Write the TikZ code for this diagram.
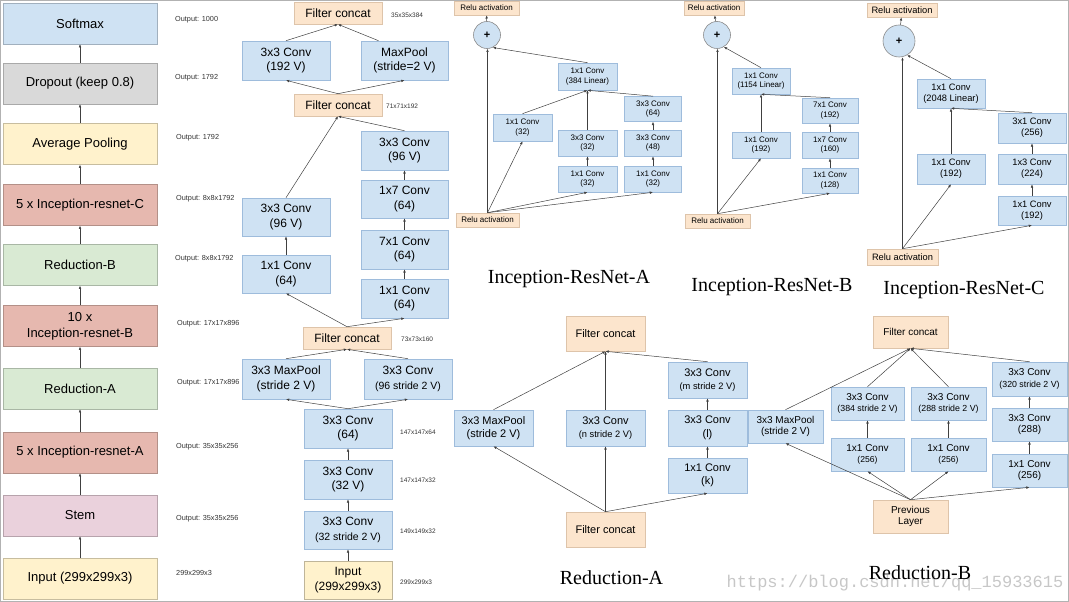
\documentclass[tikz,border=0pt]{standalone}
\usepackage{fontspec}
\setmainfont{Liberation Sans}
\newfontfamily\capfont{Liberation Serif}
\newfontfamily\markfont{Liberation Mono}
\usetikzlibrary{arrows.meta}

\definecolor{convblue}{RGB}{207,226,243}
\definecolor{convline}{RGB}{158,188,220}
\definecolor{catorange}{RGB}{252,229,205}
\definecolor{catline}{RGB}{222,196,170}
\definecolor{dropgray}{RGB}{217,217,217}
\definecolor{poolyellow}{RGB}{255,242,204}
\definecolor{blockred}{RGB}{230,184,175}
\definecolor{redgreen}{RGB}{217,234,211}
\definecolor{stempink}{RGB}{234,209,220}

\newcommand\fsz[1]{\fontsize{#1}{#1}\selectfont}

\tikzset{
  arr/.style={-{Latex[length=3.2pt,width=2.6pt]}, black!75, line width=0.5pt},
  stage/.style={draw=#1!78!black, fill=#1, minimum width=154pt, minimum height=41pt,
    inner sep=0pt, align=center, font=\fontsize{13}{16}\selectfont},
  conv/.style={draw=convline, fill=convblue, inner sep=0pt, align=center, line width=0.6pt},
  concat/.style={draw=catline, fill=catorange, inner sep=0pt, align=center, line width=0.6pt},
  sz/.style n args={2}{minimum width=#1pt, minimum height=#2pt},
  outlbl/.style={anchor=west, inner sep=0pt, text=black!80, font=\fontsize{7.3}{8}\selectfont},
  dimlbl/.style={anchor=west, inner sep=0pt, text=black!80, font=\fontsize{6.5}{7}\selectfont},
  stemf/.style={font=\fontsize{12}{14.5}\selectfont},
  resaf/.style={font=\fontsize{8}{9.4}\selectfont},
  rescf/.style={font=\fontsize{9.3}{10.7}\selectfont},
  redaf/.style={font=\fontsize{11}{13.5}\selectfont},
  redbf/.style={font=\fontsize{10}{11.6}\selectfont},
  sumnode/.style={circle, draw=black!45, fill=convblue, inner sep=0pt, line width=0.6pt,
    font=\bfseries\fontsize{11}{11}\selectfont},
  caption/.style={inner sep=0pt, font=\capfont\fontsize{20}{22}\selectfont},
}

\begin{document}
\begin{tikzpicture}[x=1pt,y=-1pt]
\useasboundingbox (0,0) rectangle (1069,602);
\draw[black!30, line width=1pt] (0.5,0.5) rectangle (1068.5,601.5);

% overall network
\node[stage=convblue]   (soft) at (80,23.5)  {Softmax};
\node[stage=dropgray]   (drop) at (80,83.5)  {Dropout (keep 0.8)};
\node[stage=poolyellow] (avgp) at (80,144)   {Average Pooling};
\node[stage=blockred]   (incC) at (80,205)   {5 x Inception-resnet-C};
\node[stage=redgreen]   (redB) at (80,265)   {Reduction-B};
\node[stage=blockred]   (incB) at (80,326)   {10 x\\Inception-resnet-B};
\node[stage=redgreen]   (redA) at (80,388.5) {Reduction-A};
\node[stage=blockred]   (incA) at (80,452.5) {5 x Inception-resnet-A};
\node[stage=stempink]   (stem) at (80,515.5) {Stem};
\node[stage=poolyellow] (inp)  at (80,578.5) {Input (299x299x3)};
\foreach \a/\b in {inp/stem, stem/incA, incA/redA, redA/incB, incB/redB, redB/incC, incC/avgp, avgp/drop, drop/soft}
  \draw[arr] (\a) -- (\b);

\node[outlbl] (out1)  at (175,20)  {Output: 1000};
\node[outlbl] (out2)  at (175,78)  {Output: 1792};
\node[outlbl] (out3)  at (176,138) {Output: 1792};
\node[outlbl] (out4)  at (176,199) {Output: 8x8x1792};
\node[outlbl] (out5)  at (175,259) {Output: 8x8x1792};
\node[outlbl] (out6)  at (177,324) {Output: 17x17x896};
\node[outlbl] (out7)  at (177,383) {Output: 17x17x896};
\node[outlbl] (out8)  at (176,447) {Output: 35x35x256};
\node[outlbl] (out9)  at (176,519) {Output: 35x35x256};
\node[outlbl] (out10) at (176,573) {299x299x3};

% stem
\node[concat,stemf,sz={88}{22}] (scatA) at (338,13)    {Filter concat};
\node[conv,stemf,sz={88}{39}]   (sc192) at (286,60.5)  {3x3 Conv\\(192 V)};
\node[conv,stemf,sz={87}{39}]   (smp)   at (404.5,60.5) {MaxPool\\(stride=2 V)};
\node[concat,stemf,sz={88}{22}] (scatB) at (338,105)   {Filter concat};
\node[conv,stemf,sz={87}{39}]   (sr96)  at (404.5,150.5) {3x3 Conv\\(96 V)};
\node[conv,stemf,sz={87}{38}]   (s17)   at (404.5,199) {1x7 Conv\\(64)};
\node[conv,stemf,sz={87}{39}]   (s71)   at (404.5,249.5) {7x1 Conv\\(64)};
\node[conv,stemf,sz={87}{39}]   (sr64)  at (404.5,298.5) {1x1 Conv\\(64)};
\node[conv,stemf,sz={88}{38}]   (sl96)  at (286,217)   {3x3 Conv\\(96 V)};
\node[conv,stemf,sz={88}{38}]   (sl64)  at (286,274)   {1x1 Conv\\(64)};
\node[concat,stemf,sz={88}{22}] (scatC) at (347,338)   {Filter concat};
\node[conv,stemf,sz={88}{40}]   (smp2)  at (286,379)   {3x3 MaxPool\\(stride 2 V)};
\node[conv,stemf,sz={88}{40}]   (sc96)  at (408,379)   {3x3 Conv\\\fsz{10.5}(96 stride 2 V)};
\node[conv,stemf,sz={88}{39}]   (sc64)  at (348,428.5) {3x3 Conv\\(64)};
\node[conv,stemf,sz={88}{39}]   (sc32)  at (348,479.5) {3x3 Conv\\(32 V)};
\node[conv,stemf,sz={88}{38}]   (sc32s) at (348,530)   {3x3 Conv\\\fsz{10.5}(32 stride 2 V)};
\node[concat,stemf,sz={88}{38},fill=poolyellow,draw=poolyellow!75!black] (sinp) at (348,580) {Input\\(299x299x3)};

\node[dimlbl] (dimA) at (391,15)  {35x35x384};
\node[dimlbl] (dimB) at (386,106) {71x71x192};
\node[dimlbl] (dimC) at (401,339) {73x73x160};
\node[dimlbl] (dimD) at (400,432) {147x147x64};
\node[dimlbl] (dimE) at (400,480) {147x147x32};
\node[dimlbl] (dimF) at (400,531) {149x149x32};
\node[dimlbl] (dimG) at (400,582) {299x299x3};

\draw[arr] (sinp) -- (sc32s);
\draw[arr] (sc32s) -- (sc32);
\draw[arr] (sc32) -- (sc64);
\draw[arr] (sc64.north) -- (smp2.south);
\draw[arr] (sc64.north) -- (sc96.south);
\draw[arr] (smp2.north) -- (scatC.south);
\draw[arr] (sc96.north) -- (scatC.south);
\draw[arr] (scatC.north) -- (sl64.south);
\draw[arr] (scatC.north) -- (sr64.south);
\draw[arr] (sl64) -- (sl96);
\draw[arr] (sr64) -- (s71);
\draw[arr] (s71) -- (s17);
\draw[arr] (s17) -- (sr96);
\draw[arr] (sl96.north) -- (scatB.south);
\draw[arr] (sr96.north) -- (scatB.south);
\draw[arr] (scatB.north) -- (sc192.south);
\draw[arr] (scatB.north) -- (smp.south);
\draw[arr] (sc192.north) -- (scatA.south);
\draw[arr] ([xshift=-26pt]smp.north) -- (scatA.south);

% Inception-ResNet-A
\node[concat,resaf,sz={65}{14}] (aRtop) at (486.5,8)   {Relu activation};
\node[sumnode,minimum size=27pt] (aSum) at (487,35)   {+};
\node[conv,resaf,sz={59}{27}]   (aLin)  at (587.5,76.5) {1x1 Conv\\(384 Linear)};
\node[conv,resaf,sz={59}{27}]   (a1)    at (522.5,127.5) {1x1 Conv\\(32)};
\node[conv,resaf,sz={59}{26}]   (a2b)   at (587.5,143) {3x3 Conv\\(32)};
\node[conv,resaf,sz={59}{26}]   (a2a)   at (587.5,179) {1x1 Conv\\(32)};
\node[conv,resaf,sz={57}{25}]   (a3c)   at (653,109)   {3x3 Conv\\(64)};
\node[conv,resaf,sz={57}{26}]   (a3b)   at (653,143)   {3x3 Conv\\(48)};
\node[conv,resaf,sz={57}{26}]   (a3a)   at (653,179)   {1x1 Conv\\(32)};
\node[concat,resaf,sz={63}{14}] (aRbot) at (487.5,220) {Relu activation};
\draw[arr] (aRbot.north) -- (aRbot.north |- aSum.south);
\draw[arr] (aRbot.north) -- (a1.south);
\draw[arr] (aRbot.north) -- (a2a.south);
\draw[arr] (aRbot.north) -- (a3a.south);
\draw[arr] (a2a) -- (a2b);
\draw[arr] (a3a) -- (a3b);
\draw[arr] (a3b) -- (a3c);
\draw[arr] (a1.north) -- (aLin.south);
\draw[arr] (a2b.north) -- (aLin.south);
\draw[arr] (a3c.north) -- (aLin.south);
\draw[arr] (aLin.north) -- (aSum.-65);
\draw[arr] (aSum) -- (aRtop);

% Inception-ResNet-B
\node[concat,resaf,sz={60}{14}] (bRtop) at (714,8)     {Relu activation};
\node[sumnode,minimum size=27pt] (bSum) at (717,35)   {+};
\node[conv,resaf,sz={58}{26}]   (bLin)  at (761,81)    {1x1 Conv\\(1154 Linear)};
\node[conv,resaf,sz={58}{26}]   (b1)    at (761,145)   {1x1 Conv\\(192)};
\node[conv,resaf,sz={56}{25}]   (b2c)   at (830,110.5) {7x1 Conv\\(192)};
\node[conv,resaf,sz={56}{26}]   (b2b)   at (830,145)   {1x7 Conv\\(160)};
\node[conv,resaf,sz={56}{25}]   (b2a)   at (830,180.5) {1x1 Conv\\(128)};
\node[concat,resaf,sz={65}{14}] (bRbot) at (717.5,221) {Relu activation};
\draw[arr] (bRbot.north) -- (bRbot.north |- bSum.south);
\draw[arr] (bRbot.north) -- (b1.south);
\draw[arr] (bRbot.north) -- (b2a.south);
\draw[arr] (b2a) -- (b2b);
\draw[arr] (b2b) -- (b2c);
\draw[arr] (b1) -- (bLin);
\draw[arr] (b2c.north) -- (bLin.south);
\draw[arr] (bLin.north) -- (bSum.-60);
\draw[arr] (bSum) -- (bRtop);

% Inception-ResNet-C
\node[concat,rescf,sz={70}{14}] (cRtop) at (902,10)    {Relu activation};
\node[sumnode,minimum size=32pt] (cSum) at (899,41)   {+};
\node[conv,rescf,sz={68}{29}]   (cLin)  at (951,93.5)  {1x1 Conv\\(2048 Linear)};
\node[conv,rescf,sz={68}{30}]   (c1)    at (951,169)   {1x1 Conv\\(192)};
\node[conv,rescf,sz={68}{30}]   (c2c)   at (1032,128)  {3x1 Conv\\(256)};
\node[conv,rescf,sz={68}{30}]   (c2b)   at (1032,169)  {1x3 Conv\\(224)};
\node[conv,rescf,sz={68}{29}]   (c2a)   at (1032,210.5) {1x1 Conv\\(192)};
\node[concat,rescf,sz={71}{16}] (cRbot) at (902.5,257) {Relu activation};
\draw[arr] (cRbot.north) -- (cRbot.north |- cSum.south);
\draw[arr] (cRbot.north) -- (c1.south);
\draw[arr] (cRbot.north) -- (c2a.south);
\draw[arr] (c2a) -- (c2b);
\draw[arr] (c2b) -- (c2c);
\draw[arr] (c1) -- (cLin);
\draw[arr] (c2c.north) -- (cLin.south);
\draw[arr] (cLin.north) -- (cSum.-60);
\draw[arr] (cSum) -- (cRtop);

\node[caption] (capA) at (569,279) {Inception-ResNet-A};
\node[caption] (capB) at (772,287) {Inception-ResNet-B};
\node[caption] (capC) at (964,290) {Inception-ResNet-C};

% Reduction-A
\node[concat,redaf,sz={79}{35}] (raTop) at (605.5,333.5) {Filter concat};
\node[conv,redaf,sz={79}{36}]   (raMp)  at (493.5,428)   {3x3 MaxPool\\(stride 2 V)};
\node[conv,redaf,sz={79}{36}]   (raN)   at (605.5,428)   {3x3 Conv\\\fsz{9.3}(n stride 2 V)};
\node[conv,redaf,sz={79}{36}]   (raM)   at (707.5,380)   {3x3 Conv\\\fsz{9.3}(m stride 2 V)};
\node[conv,redaf,sz={79}{36}]   (raL)   at (707.5,428)   {3x3 Conv\\(l)};
\node[conv,redaf,sz={79}{35}]   (raK)   at (707.5,475.5) {1x1 Conv\\(k)};
\node[concat,redaf,sz={79}{35}] (raBot) at (605.5,529.5) {Filter concat};
\draw[arr] (raBot.north) -- (raMp.south);
\draw[arr] (raBot.north) -- (raN.south);
\draw[arr] (raBot.north) -- (raK.south);
\draw[arr] (raK) -- (raL);
\draw[arr] (raL) -- (raM);
\draw[arr] (raMp.north) -- (raTop.south);
\draw[arr] (raN.north) -- (raTop.south);
\draw[arr] (raM.north) -- (raTop.south);
\node[caption] (capRA) at (611.5,578) {Reduction-A};

% Reduction-B
\node[concat,redbf,sz={75}{32}] (rbTop)  at (910.5,332)   {Filter concat};
\node[conv,redbf,sz={75}{33}]   (rbMp)   at (785.5,426.5) {3x3 MaxPool\\(stride 2 V)};
\node[conv,redbf,sz={73}{33}]   (rb1b)   at (867.5,403.5) {3x3 Conv\\\fsz{8.8}(384 stride 2 V)};
\node[conv,redbf,sz={73}{33}]   (rb1a)   at (867.5,454.5) {1x1 Conv\\\fsz{8.6}(256)};
\node[conv,redbf,sz={75}{33}]   (rb2b)   at (948.5,403.5) {3x3 Conv\\\fsz{8.8}(288 stride 2 V)};
\node[conv,redbf,sz={75}{33}]   (rb2a)   at (948.5,454.5) {1x1 Conv\\\fsz{8.6}(256)};
\node[conv,redbf,sz={75}{34}]   (rb3c)   at (1029.5,379)  {3x3 Conv\\\fsz{8.8}(320 stride 2 V)};
\node[conv,redbf,sz={75}{33}]   (rb3b)   at (1029.5,424.5) {3x3 Conv\\(288)};
\node[conv,redbf,sz={75}{33}]   (rb3a)   at (1029.5,470.5) {1x1 Conv\\(256)};
\node[concat,redbf,sz={75}{33}] (rbPrev) at (910.5,516.5) {Previous\\Layer};
\draw[arr] (rbPrev.north) -- (rbMp.south);
\draw[arr] (rbPrev.north) -- (rb1a.south);
\draw[arr] (rbPrev.north) -- (rb2a.south);
\draw[arr] (rbPrev.north) -- (rb3a.south);
\draw[arr] (rb1a) -- (rb1b);
\draw[arr] (rb2a) -- (rb2b);
\draw[arr] (rb3a) -- (rb3b);
\draw[arr] (rb3b) -- (rb3c);
\draw[arr] (rbMp.north) -- (rbTop.south);
\draw[arr] (rb1b.north) -- (rbTop.south);
\draw[arr] (rb2b.north) -- (rbTop.south);
\draw[arr] (rb3c.north) -- (rbTop.south);

\node[inner sep=0pt, text=black!22, font=\markfont\fontsize{17}{17}\selectfont] (wmark) at (895,583) {https://blog.csdn.net/qq\_15933615};
\node[caption] (capRB) at (920,573) {Reduction-B};
\end{tikzpicture}
\end{document}
